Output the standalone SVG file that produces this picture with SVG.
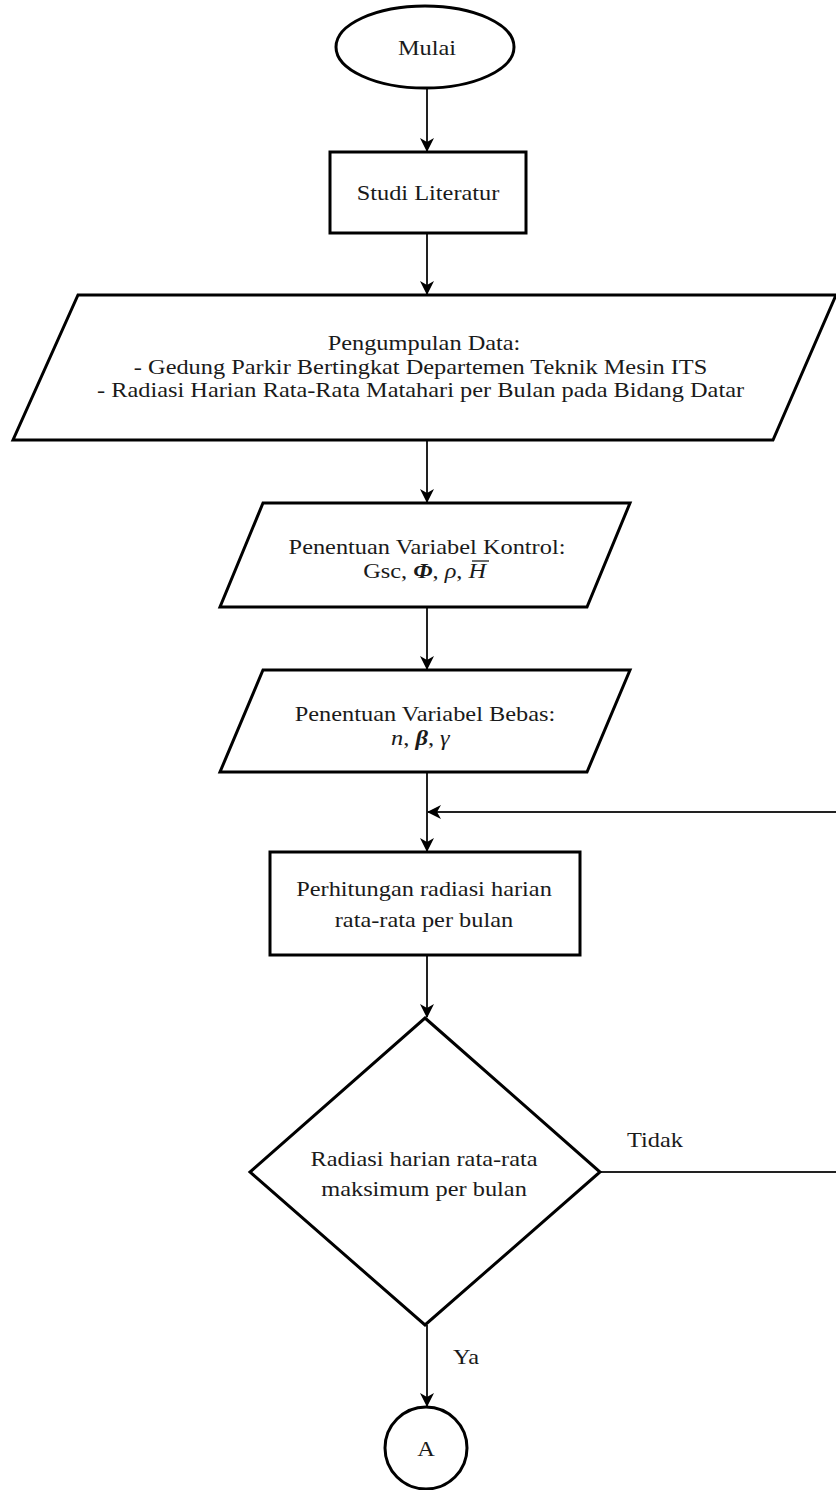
<svg xmlns="http://www.w3.org/2000/svg" width="836" height="1490" viewBox="0 0 836 1490">
<defs>
<style>
.s{fill:#fff;stroke:#000;stroke-width:3}
.c{fill:none;stroke:#222;stroke-width:2}
text{font-family:"Liberation Serif","Times New Roman",serif;font-size:21px;fill:#1a1a1a;text-anchor:middle}
.l{text-anchor:start}
.i{font-style:italic}
.bi{font-style:italic;font-weight:bold}
</style>
<marker id="ar" viewBox="0 0 14 14" refX="13" refY="7" markerWidth="14" markerHeight="14" markerUnits="userSpaceOnUse" orient="auto">
<path d="M0,0 L14,7 L0,14 L4,7 z" fill="#000"/>
</marker>
</defs>
<rect width="836" height="1490" fill="#fff"/>
<g id="connectors">
<path class="c" d="M427,88 V151" marker-end="url(#ar)"/>
<path class="c" d="M427,233 V294" marker-end="url(#ar)"/>
<path class="c" d="M427,440 V502" marker-end="url(#ar)"/>
<path class="c" d="M427,607 V669" marker-end="url(#ar)"/>
<path class="c" d="M427,772 V851" marker-end="url(#ar)"/>
<path class="c" d="M600,1172 H840 V812 H428" marker-end="url(#ar)"/>
<path class="c" d="M427,955 V1017" marker-end="url(#ar)"/>
<path class="c" d="M427,1325 V1406" marker-end="url(#ar)"/>
<text class="l" transform="translate(627,1147) scale(1.16,1)">Tidak</text>
<text class="l" transform="translate(453,1364) scale(1.16,1)">Ya</text>
</g>
<g id="mulai">
<ellipse class="s" cx="425" cy="47" rx="89" ry="41"/>
<text transform="translate(427,55) scale(1.16,1)">Mulai</text>
</g>
<g id="studi">
<rect class="s" x="330" y="152" width="196" height="81"/>
<text transform="translate(428,200) scale(1.16,1)">Studi Literatur</text>
</g>
<g id="pengumpulan">
<polygon class="s" points="78,295 836,295 773,440 13,440"/>
<text transform="translate(424,350) scale(1.16,1)">Pengumpulan Data:<tspan x="-3" dy="24">- Gedung Parkir Bertingkat Departemen Teknik Mesin ITS</tspan><tspan x="-3" dy="23">- Radiasi Harian Rata-Rata Matahari per Bulan pada Bidang Datar</tspan></text>
</g>
<g id="kontrol">
<polygon class="s" points="263,503 630,503 587,607 220,607"/>
<text transform="translate(427,554) scale(1.16,1)">Penentuan Variabel Kontrol:<tspan x="-2" dy="24">Gsc, <tspan class="bi">Φ</tspan>, <tspan class="i">ρ</tspan>, <tspan class="i">H</tspan></tspan></text>
<line x1="472" y1="561" x2="489" y2="561" stroke="#1a1a1a" stroke-width="1.3"/>
</g>
<g id="bebas">
<polygon class="s" points="263,670 630,670 587,772 220,772"/>
<text transform="translate(425,721) scale(1.16,1)">Penentuan Variabel Bebas:<tspan x="-4" dy="24"><tspan class="i">n</tspan>, <tspan class="bi">β</tspan>, <tspan class="i">γ</tspan></tspan></text>
</g>
<g id="perhitungan">
<rect class="s" x="270" y="852" width="310" height="103"/>
<text transform="translate(424,896) scale(1.16,1)">Perhitungan radiasi harian<tspan x="0" dy="31">rata-rata per bulan</tspan></text>
</g>
<g id="keputusan">
<polygon class="s" points="425,1018 600,1172 425,1325 250,1172"/>
<text transform="translate(424,1166) scale(1.16,1)">Radiasi harian rata-rata<tspan x="0" dy="30">maksimum per bulan</tspan></text>
</g>
<g id="konektorA">
<circle class="s" cx="426" cy="1448" r="41"/>
<text transform="translate(426,1456) scale(1.16,1)">A</text>
</g>
</svg>
